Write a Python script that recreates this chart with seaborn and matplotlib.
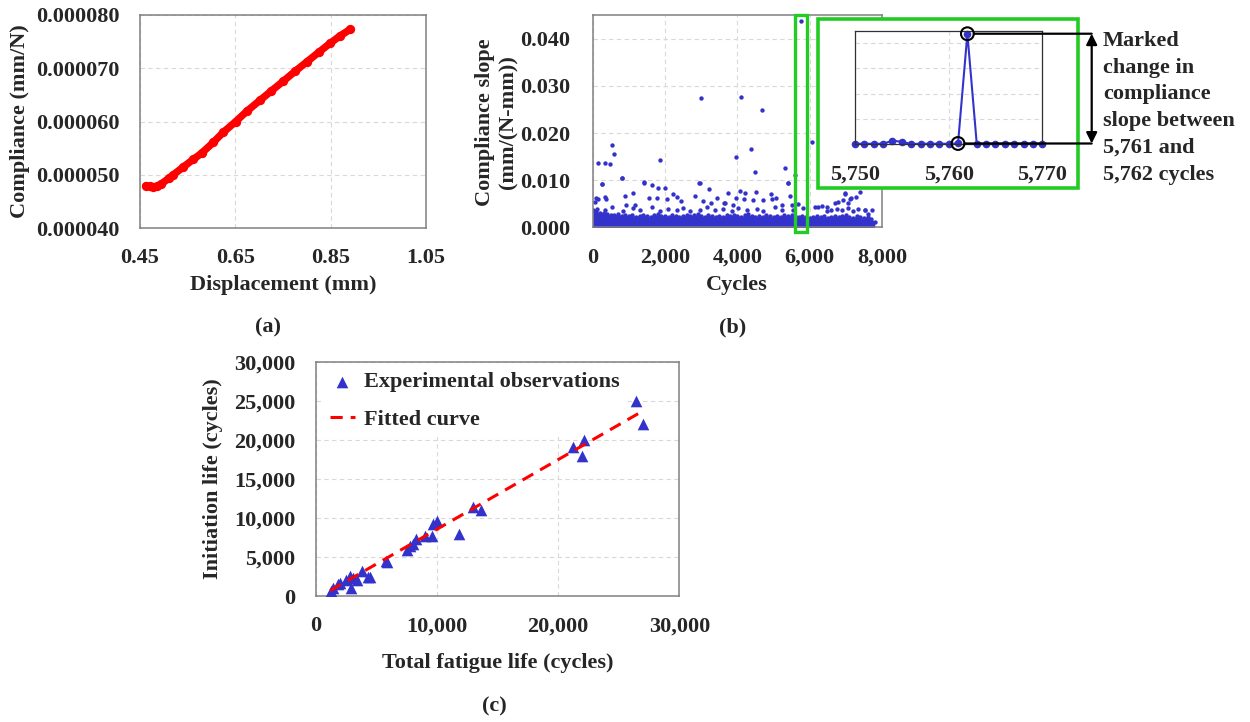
import numpy as np
import pandas as pd
import matplotlib
matplotlib.use("Agg")
import matplotlib.pyplot as plt
import matplotlib.transforms as mtransforms
from matplotlib.lines import Line2D
from matplotlib.patches import Rectangle
from matplotlib.ticker import FuncFormatter, FixedLocator
import seaborn as sns

# ---------------- data ----------------
# (a) compliance versus displacement
displacement = [0.462, 0.470, 0.478, 0.485, 0.495, 0.510, 0.520, 0.540, 0.562, 0.580,
                0.604, 0.625, 0.651, 0.675, 0.702, 0.725, 0.751, 0.775, 0.800, 0.825,
                0.849, 0.870, 0.891]
compliance = [4.79e-5, 4.78e-5, 4.77e-5, 4.78e-5, 4.83e-5, 4.93e-5, 5.00e-5, 5.14e-5, 5.29e-5, 5.41e-5,
              5.61e-5, 5.80e-5, 6.00e-5, 6.20e-5, 6.40e-5, 6.57e-5, 6.76e-5, 6.94e-5, 7.12e-5, 7.30e-5,
              7.47e-5, 7.61e-5, 7.73e-5]

# (b) compliance slope per cycle: upper edge of the dense band near zero (every 100 cycles)
band_cycles = list(range(0, 7900, 100))
band_slope = [0.0036, 0.0034, 0.0031, 0.0030, 0.0028, 0.0027, 0.0026, 0.0029, 0.0025, 0.0027,
              0.0024, 0.0026, 0.0023, 0.0025, 0.0027, 0.0024, 0.0022, 0.0026, 0.0028, 0.0024,
              0.0025, 0.0023, 0.0026, 0.0024, 0.0022, 0.0025, 0.0027, 0.0024, 0.0026, 0.0028,
              0.0025, 0.0023, 0.0026, 0.0024, 0.0022, 0.0025, 0.0023, 0.0026, 0.0024, 0.0027,
              0.0025, 0.0023, 0.0026, 0.0028, 0.0024, 0.0022, 0.0025, 0.0023, 0.0026, 0.0024,
              0.0022, 0.0025, 0.0023, 0.0026, 0.0024, 0.0027, 0.0025, 0.0023, 0.0024, 0.0022,
              0.0021, 0.0023, 0.0025, 0.0022, 0.0024, 0.0021, 0.0023, 0.0025, 0.0022, 0.0024,
              0.0026, 0.0023, 0.0021, 0.0024, 0.0022, 0.0020, 0.0023, 0.0019, 0.0012]

# (b) individual cycles standing out above the band
spike_cycles = [110, 340, 525, 847, 1124, 1308, 1631, 1862, 2092, 2323, 2507, 2691, 2968, 3152,
                3383, 3613, 3844, 4028, 4259, 4536, 4720, 5042, 5227, 5550, 5826, 6148, 6332,
                6471, 6600, 6750, 6900, 7050, 7200, 7350, 7532, 7625, 7717,
                65, 91, 157, 331, 360, 893, 921, 1105, 1170, 1566, 1788, 2064, 2212, 2332,
                2451, 2839, 3060, 3281, 3447, 3642, 3669, 3890, 3954, 4185, 4203, 4443, 4720,
                4969, 5236, 5457, 5512, 5678, 6232, 6490, 6702, 6785, 6910, 7048, 7126, 7140,
                7292, 7532,
                257, 819, 1419, 1650, 1806, 2009, 2978, 3226, 3734, 4065, 4508, 4923, 5061,
                5393, 6979, 6988, 7394,
                150, 330, 480, 249, 535, 599, 821, 1411, 1853, 2932, 2988, 3965, 4103, 4371,
                4481, 4684, 5320, 5403, 5588, 5762, 6058]
spike_slope = [0.0040, 0.0036, 0.0043, 0.0035, 0.0041, 0.0037, 0.0044, 0.0034, 0.0039, 0.0036,
               0.0042, 0.0035, 0.0038, 0.0044, 0.0036, 0.0040, 0.0034, 0.0042, 0.0037, 0.0039,
               0.0035, 0.0043, 0.0036, 0.0038, 0.0041, 0.0044, 0.0045, 0.0034, 0.0036, 0.0040,
               0.0038, 0.0042, 0.0035, 0.0040, 0.0036, 0.0029, 0.0038,
               0.0053, 0.0062, 0.0060, 0.0064, 0.0061, 0.0066, 0.0047, 0.0072, 0.0048, 0.0062,
               0.0062, 0.0061, 0.0070, 0.0064, 0.0057, 0.0066, 0.0057, 0.0052, 0.0062, 0.0052,
               0.0052, 0.0048, 0.0062, 0.0060, 0.0074, 0.0058, 0.0058, 0.0060, 0.0048, 0.0067,
               0.0047, 0.0049, 0.0043, 0.0043, 0.0052, 0.0055, 0.0059, 0.0052, 0.0060, 0.0063,
               0.0064, 0.0036,
               0.0093, 0.0104, 0.0095, 0.0091, 0.0083, 0.0084, 0.0095, 0.0081, 0.0073, 0.0078,
               0.0076, 0.0070, 0.0063, 0.0094, 0.0073, 0.0071, 0.0076,
               0.0136, 0.0137, 0.0135, 0.0093, 0.0175, 0.0156, 0.0105, 0.0096, 0.0142, 0.0095,
               0.0274, 0.0150, 0.0276, 0.0167, 0.0118, 0.0249, 0.0125, 0.0094, 0.0112, 0.0438,
               0.0180]

# (b) detail: cycles 5,750 - 5,770
detail_cycles = list(range(5750, 5771))
detail_slope = [0.0001, 0.0001, 0.0001, 0.0001, 0.0013, 0.0009, 0.0000, 0.0001, 0.0001, 0.0001,
                0.0001, 0.0002, 0.0438, 0.0001, 0.0001, 0.0001, 0.0001, 0.0001, 0.0001, 0.0001,
                0.0001]
jump_from, jump_to = 5761, 5762

# (c) initiation life versus total fatigue life
total_life = [1300, 1400, 1800, 2000, 2500, 2800, 2900, 3100, 3400, 3800, 4300, 4500,
              5800, 5900, 7500, 7800, 8000, 8300, 9000, 9600, 9700, 10000, 11800,
              13000, 13600, 21200, 22100, 22000, 26400, 27000]
initiation_life = [700, 1000, 1500, 1700, 2000, 2500, 1000, 2300, 2100, 3200, 2400, 2400,
                   4500, 4300, 5900, 6400, 6600, 7300, 7700, 7700, 9200, 9600, 8000,
                   11400, 11000, 19100, 20000, 17900, 25000, 22000]
fit_life = [1200, 27000]
fit_initiation = [700, 23700]

# ---------------- style ----------------
sns.set_theme(style="white")
plt.rcParams["font.family"] = ["Liberation Serif", "DejaVu Serif"]
plt.rcParams["font.weight"] = "bold"
plt.rcParams["axes.labelweight"] = "bold"

BLUE = "#3333CC"
RED = "#FF0000"
GREEN = "#22CC22"
GRID = "#D9D9D9"
FS = 16

W, H = 1250, 722
fig = plt.figure(figsize=(W / 100, H / 100), dpi=100)
fig.patch.set_facecolor("white")


def px_axes(left, top, right, bottom):
    return fig.add_axes([left / W, 1 - bottom / H, (right - left) / W, (bottom - top) / H])


def fx(x):
    return x / W


def fy(y):
    return 1 - y / H


def style_axes(ax, ypad=14.5, xpad=14.5, spine="#808080"):
    for s in ax.spines.values():
        s.set_color(spine)
        s.set_linewidth(1.1)
        s.set_visible(True)
    ax.grid(True, color=GRID, linestyle=(0, (4, 3)), linewidth=0.8)
    ax.set_axisbelow(True)
    ax.tick_params(axis="both", length=0, labelsize=FS)
    ax.tick_params(axis="y", pad=ypad)
    ax.tick_params(axis="x", pad=xpad)
    ax.set_xlabel("")
    ax.set_ylabel("")


comma = FuncFormatter(lambda v, p: f"{v:,.0f}")

# ---------------- (a) ----------------
ax_a = px_axes(140, 15, 426, 228)
df_a = pd.DataFrame({"disp": displacement, "comp": compliance})
sns.lineplot(data=df_a, x="disp", y="comp", color=RED, linewidth=5.3, ax=ax_a,
             solid_capstyle="round", solid_joinstyle="round")
sns.scatterplot(data=df_a, x="disp", y="comp", color=RED, s=45, linewidth=0, ax=ax_a)
ax_a.set_xlim(0.45, 1.05)
ax_a.set_ylim(0.00004, 0.00008)
ax_a.xaxis.set_major_locator(FixedLocator([0.45, 0.65, 0.85, 1.05]))
ax_a.yaxis.set_major_locator(FixedLocator([0.00004, 0.00005, 0.00006, 0.00007, 0.00008]))
ax_a.xaxis.set_major_formatter(FuncFormatter(lambda v, p: f"{v:.2f}"))
ax_a.yaxis.set_major_formatter(FuncFormatter(lambda v, p: f"{v:.6f}"))
style_axes(ax_a, ypad=14.5)

# ---------------- (b) ----------------
ax_b = px_axes(592.7, 15, 882, 227.5)
ax_b.fill_between(band_cycles, 0, band_slope, color=BLUE, linewidth=0)
sns.scatterplot(x=band_cycles, y=band_slope, color=BLUE, s=10, linewidth=0, ax=ax_b)
sns.scatterplot(x=spike_cycles, y=spike_slope, color=BLUE, s=10, linewidth=0, ax=ax_b)
ax_b.set_xlim(0, 8000)
ax_b.set_ylim(0, 0.045)
ax_b.xaxis.set_major_locator(FixedLocator([0, 2000, 4000, 6000, 8000]))
ax_b.yaxis.set_major_locator(FixedLocator([0, 0.01, 0.02, 0.03, 0.04]))
ax_b.xaxis.set_major_formatter(comma)
ax_b.yaxis.set_major_formatter(FuncFormatter(lambda v, p: f"{v:.3f}"))
style_axes(ax_b, ypad=16)

# narrow highlight around the jump on the main plot
ax_b.add_patch(Rectangle((5600, -0.0009), 335, 0.046, transform=ax_b.transData,
                         fill=False, edgecolor=GREEN, linewidth=2.4, clip_on=False, zorder=4))

# framed detail view
frame = Rectangle((fx(818.3), fy(188.3)), fx(1078.3) - fx(818.3), fy(19.3) - fy(188.3),
                  transform=fig.transFigure, facecolor="white", edgecolor=GREEN,
                  linewidth=2.6, zorder=1)
fig.patches.append(frame)

ax_in = px_axes(855, 30.7, 1042.3, 144)
ax_in.set_zorder(2)
sns.lineplot(x=detail_cycles, y=detail_slope, color=BLUE, linewidth=1.5, marker="o",
             markersize=5.5, markeredgewidth=0, ax=ax_in)
for ln in ax_in.lines:
    ln.set_clip_on(False)
ax_in.set_xlim(5750, 5770)
ax_in.set_ylim(0, 0.045)
ax_in.xaxis.set_major_locator(FixedLocator([5750, 5760, 5770]))
ax_in.yaxis.set_major_locator(FixedLocator([0.01, 0.02, 0.03, 0.04]))
ax_in.xaxis.set_major_formatter(comma)
style_axes(ax_in, xpad=14.5, spine="#303030")
for s in ax_in.spines.values():
    s.set_linewidth(0.9)
ax_in.tick_params(axis="y", labelleft=False)

i_from = detail_cycles.index(jump_from)
i_to = detail_cycles.index(jump_to)
y_from, y_to = detail_slope[i_from], detail_slope[i_to]
ax_in.scatter([jump_from, jump_to], [y_from, y_to], s=85, facecolors="none",
              edgecolors="black", linewidths=1.5, clip_on=False, zorder=6)

mixed = mtransforms.blended_transform_factory(fig.transFigure, ax_in.transData)
x_bar = fx(1091.7)
for cyc, val in [(jump_to, y_to), (jump_from, y_from)]:
    ax_in.annotate("", xy=(x_bar, val), xycoords=mixed, xytext=(cyc, val), textcoords="data",
                   annotation_clip=False,
                   arrowprops=dict(arrowstyle="-", color="black", lw=1.6, shrinkA=4.6, shrinkB=0))
ax_in.annotate("", xy=(x_bar, y_from), xycoords=mixed, xytext=(x_bar, y_to), textcoords=mixed,
               annotation_clip=False,
               arrowprops=dict(arrowstyle="<|-|>", color="black", lw=1.6, shrinkA=0, shrinkB=0,
                               mutation_scale=16))

fig.text(fx(1103), fy(31), "Marked\nchange in\ncompliance\nslope between\n5,761 and\n5,762 cycles",
         ha="left", va="top", fontsize=FS, linespacing=1.45, zorder=5)

# ---------------- (c) ----------------
ax_c = px_axes(315.7, 361.7, 679.3, 596)
sns.scatterplot(x=total_life, y=initiation_life, marker="^", s=70, color=BLUE, linewidth=0,
                ax=ax_c, label="Experimental observations", zorder=3)
sns.lineplot(x=fit_life, y=fit_initiation, color=RED, linewidth=2.2, ax=ax_c,
             label="Fitted curve", zorder=4)
ax_c.lines[-1].set_dashes((4, 2.6))
ax_c.set_xlim(0, 30000)
ax_c.set_ylim(0, 30000)
ax_c.xaxis.set_major_locator(FixedLocator([0, 10000, 20000, 30000]))
ax_c.yaxis.set_major_locator(FixedLocator(list(range(0, 30001, 5000))))
ax_c.xaxis.set_major_formatter(comma)
ax_c.yaxis.set_major_formatter(comma)
style_axes(ax_c, ypad=14.5)
leg = ax_c.legend(loc="upper left", bbox_to_anchor=(0.02, 0.985), borderaxespad=0, fontsize=FS,
                  frameon=True, facecolor="white", edgecolor="none", framealpha=1,
                  handlelength=1.15, handletextpad=0.4, labelspacing=0.77, borderpad=0.3)
leg.set_zorder(2)
for h in leg.legend_handles:
    if isinstance(h, Line2D):
        h.set_dashes((4, 2.6))

# ---------------- axis titles and panel tags ----------------
fig.text(fx(20), fy(121.5), "Compliance (mm/N)", rotation=90, ha="center", va="center", fontsize=FS)
fig.text(fx(283), fy(285), "Displacement (mm)", ha="center", va="center", fontsize=FS)
fig.text(fx(268), fy(327), "(a)", ha="center", va="center", fontsize=FS)

fig.text(fx(496.7), fy(121.7), "Compliance slope\n(mm/(N-mm))", rotation=90, ha="center",
         va="center", multialignment="center", fontsize=FS, linespacing=1.2)
fig.text(fx(737), fy(285), "Cycles", ha="center", va="center", fontsize=FS)
fig.text(fx(733), fy(327), "(b)", ha="center", va="center", fontsize=FS)

fig.text(fx(213), fy(479), "Initiation life (cycles)", rotation=90, ha="center", va="center",
         fontsize=FS)
fig.text(fx(497.5), fy(663), "Total fatigue life (cycles)", ha="center", va="center", fontsize=FS)
fig.text(fx(494), fy(706), "(c)", ha="center", va="center", fontsize=FS)

fig.savefig("out.png", dpi=100, facecolor="white")
